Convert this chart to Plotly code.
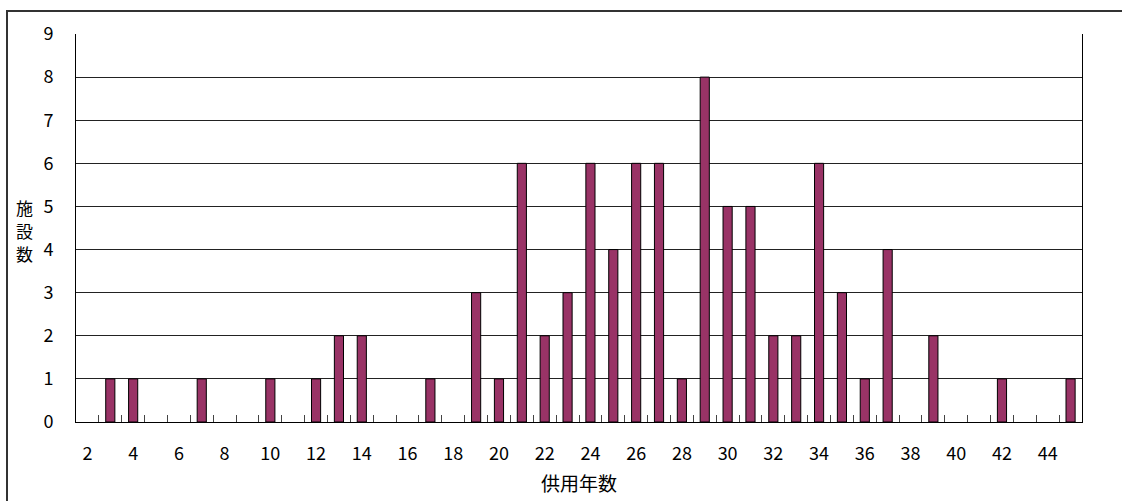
import plotly.graph_objects as go

years = [3, 4, 7, 10, 12, 13, 14, 17, 19, 20, 21, 22, 23, 24, 25, 26, 27, 28, 29, 30,
         31, 32, 33, 34, 35, 36, 37, 39, 42, 45]
counts = [1, 1, 1, 1, 1, 2, 2, 1, 3, 1, 6, 2, 3, 6, 4, 6, 6, 1, 8, 5,
          5, 2, 2, 6, 3, 1, 4, 2, 1, 1]
x_ticks = list(range(2, 45, 2))
y_ticks = list(range(0, 10))
first_year, last_year = 2, 45
boundaries = [v + 0.5 for v in range(first_year - 1, last_year + 1)]
y_title_chars = ["施", "設", "数"]

font_family = "Noto Sans CJK JP, Noto Sans, sans-serif"
xr = [first_year - 0.5, last_year + 0.5]

fig = go.Figure()
fig.add_trace(go.Bar(
    x=years, y=counts, width=0.4,
    marker=dict(color="#993366", line=dict(color="black", width=1)),
))
# invisible trace to carry the boundary tick axis
fig.add_trace(go.Scatter(x=xr, y=[0, 0], xaxis="x2", mode="lines",
                         line=dict(width=0), hoverinfo="skip", showlegend=False))

annotations = []
for i, ch in enumerate(y_title_chars):
    annotations.append(dict(text=ch, xref="paper", yref="paper",
                            x=-52 / 1006, y=(422 - 208 - 22.5 * i) / 388,
                            showarrow=False, font=dict(size=17),
                            xanchor="center", yanchor="middle"))
annotations.append(dict(text="供用年数", xref="paper", yref="paper",
                        x=(579 - 76) / 1006, y=-(483 - 422) / 388,
                        showarrow=False, font=dict(size=19),
                        xanchor="center", yanchor="middle"))

fig.update_layout(
    width=1122, height=501,
    margin=dict(l=76, r=40, t=34, b=79),
    paper_bgcolor="white", plot_bgcolor="white",
    showlegend=False,
    font=dict(family=font_family, size=18, color="black"),
    xaxis=dict(
        range=xr, tickvals=x_ticks, ticktext=[str(v) for v in x_ticks],
        ticks="", showgrid=False, showline=True, linecolor="black", linewidth=1,
        tickfont=dict(size=18), ticklabelstandoff=15,
        zeroline=False,
    ),
    xaxis2=dict(
        range=xr, overlaying="x", side="bottom", tickvals=boundaries,
        ticks="inside", ticklen=7, tickcolor="#444444", tickwidth=1,
        showticklabels=False, showgrid=False, showline=False, zeroline=False,
    ),
    yaxis=dict(
        range=[0, 9], tickvals=y_ticks, ticks="", showgrid=True,
        gridcolor="#222222", gridwidth=1, showline=True, linecolor="black",
        linewidth=1, mirror=True, zeroline=False, tickfont=dict(size=18),
        ticklabelstandoff=18,
    ),
    shapes=[dict(type="rect", xref="paper", yref="paper",
                 x0=-69 / 1006, x1=1.2, y0=-0.4, y1=1 + 23 / 388,
                 line=dict(color="#333333", width=2), layer="below")],
    annotations=annotations,
)

fig.write_html("out.html")
